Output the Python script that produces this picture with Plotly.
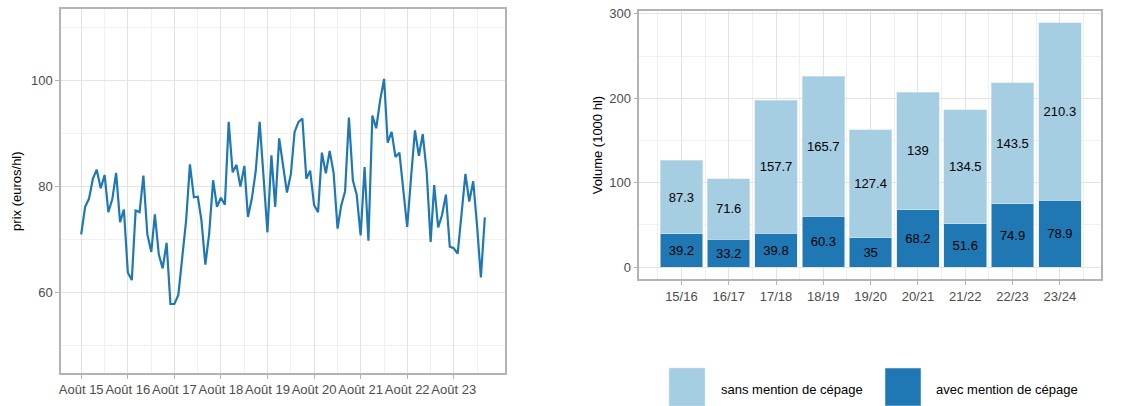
import pandas as pd
import plotly.graph_objects as go

# ---------- data ----------
price_start = "2015-08-01"
prices = [71.0, 76.2, 77.7, 81.5, 83.2, 79.7, 82.2, 75.2, 77.6, 82.6,
          73.3, 75.7, 63.8, 62.4, 75.5, 75.2, 82.1, 71.0, 67.7, 74.8,
          67.2, 64.6, 69.4, 57.9, 57.9, 59.6, 66.5, 73.6, 84.2, 78.0,
          78.1, 73.7, 65.3, 71.2, 81.2, 76.2, 77.9, 76.6, 92.2, 82.7,
          84.1, 80.0, 83.9, 74.3, 77.8, 82.9, 92.2, 82.5, 71.4, 85.9,
          76.2, 89.1, 83.9, 78.9, 82.4, 90.3, 92.2, 92.8, 81.5, 83.0,
          76.5, 75.2, 86.4, 82.5, 86.7, 82.6, 72.1, 76.4, 79.1, 93.0,
          81.2, 78.5, 70.8, 83.7, 69.8, 93.4, 91.0, 96.3, 100.3, 88.3,
          90.3, 85.6, 86.4, 80.0, 72.4, 81.9, 90.6, 85.8, 89.9, 82.8,
          69.6, 80.3, 72.3, 74.6, 78.5, 68.7, 68.4, 67.4, 74.3, 82.4,
          77.2, 81.0, 72.4, 62.9, 74.2]
price_tick_dates = ["2015-08-01", "2016-08-01", "2017-08-01", "2018-08-01", "2019-08-01",
                    "2020-08-01", "2021-08-01", "2022-08-01", "2023-08-01"]
price_tick_labels = ["Août 15", "Août 16", "Août 17", "Août 18", "Août 19",
                     "Août 20", "Août 21", "Août 22", "Août 23"]

campaigns = ["15/16", "16/17", "17/18", "18/19", "19/20", "20/21", "21/22", "22/23", "23/24"]
avec_cepage = [39.2, 33.2, 39.8, 60.3, 35, 68.2, 51.6, 74.9, 78.9]
sans_cepage = [87.3, 71.6, 157.7, 165.7, 127.4, 139, 134.5, 143.5, 210.3]
series_names = ["sans mention de cépage", "avec mention de cépage"]

# ---------- styles ----------
LIGHT = "#a6cee3"
DARK = "#1f78b4"
GRID = "#e3e3e3"
GRID_MINOR = "#f0f0f0"
BORDER = "#b3b3b3"
TICKTXT = "#4d4d4d"
FONT = "Liberation Sans, Arial, sans-serif"

# page body margin is removed in post_script, so page pixels = figure pixels
W, H = 1137, 406


def px_x(x):
    return x / W


def px_y(y):
    return (H - y) / H


dates = pd.date_range(price_start, periods=len(prices), freq="MS")
span = dates[-1] - dates[0]
xr = [dates[0] - span * 0.05, dates[-1] + span * 0.05]
minor_dates = pd.date_range("2015-02-01", "2024-08-01", freq="12MS")

fig = go.Figure()

fig.add_trace(go.Scatter(
    x=dates, y=prices, mode="lines",
    line=dict(color=DARK, width=2.2),
    xaxis="x", yaxis="y", showlegend=False, hoverinfo="x+y"))

xi = list(range(len(campaigns)))
fig.add_trace(go.Bar(
    x=xi, y=avec_cepage, name=series_names[1],
    marker=dict(color=DARK, line=dict(color="#d6e6f0", width=0.6)),
    text=[f"{v:g}" for v in avec_cepage], textposition="inside",
    insidetextanchor="middle", textfont=dict(color="black", size=13, family=FONT),
    xaxis="x2", yaxis="y2", showlegend=False, width=0.9))
fig.add_trace(go.Bar(
    x=xi, y=sans_cepage, name=series_names[0],
    marker=dict(color=LIGHT, line=dict(color="#d6e6f0", width=0.6)),
    text=[f"{v:g}" for v in sans_cepage], textposition="inside",
    insidetextanchor="middle", textfont=dict(color="black", size=13, family=FONT),
    xaxis="x2", yaxis="y2", showlegend=False, width=0.9))

axis_common = dict(
    showline=True, mirror=True, linecolor=BORDER, linewidth=1.5,
    ticks="outside", ticklen=4, tickcolor=BORDER, tickwidth=1,
    tickfont=dict(color=TICKTXT, size=13, family=FONT),
    gridcolor=GRID, gridwidth=1, zeroline=False, automargin=False,
    ticklabeloverflow="allow",
)

fig.update_layout(
    width=W, height=H,
    margin=dict(l=0, r=0, t=0, b=0),
    paper_bgcolor="white", plot_bgcolor="white",
    barmode="stack",
    font=dict(family=FONT, color="black"),
    xaxis=dict(
        domain=[px_x(61), px_x(505)], anchor="y", type="date",
        range=xr, tickvals=pd.to_datetime(price_tick_dates), ticktext=price_tick_labels,
        tickangle=0,
        minor=dict(tickvals=minor_dates, showgrid=True, gridcolor=GRID_MINOR, gridwidth=1, ticks=""),
        **axis_common),
    yaxis=dict(
        domain=[px_y(373), px_y(9.3)], anchor="x",
        range=[44.9, 113.4], tickvals=[60, 80, 100],
        minor=dict(tickvals=[50, 70, 90, 110], showgrid=True, gridcolor=GRID_MINOR, gridwidth=1, ticks=""),
        title=dict(text="prix (euros/hl)", font=dict(size=13, color="black"), standoff=6),
        **axis_common),
    xaxis2=dict(
        domain=[px_x(639.3), px_x(1101)], anchor="y2",
        range=[-0.89, 8.87], tickvals=xi, ticktext=campaigns, tickangle=0,
        minor=dict(tickvals=[i + 0.5 for i in range(-1, len(campaigns))], showgrid=True,
                   gridcolor=GRID_MINOR, gridwidth=1, ticks=""),
        **axis_common),
    yaxis2=dict(
        domain=[px_y(279.3), px_y(10.7)], anchor="x2",
        range=[-14.46, 303.66], tickvals=[0, 100, 200, 300],
        minor=dict(tickvals=[50, 150, 250], showgrid=True, gridcolor=GRID_MINOR, gridwidth=1, ticks=""),
        title=dict(text="Volume (1000 hl)", font=dict(size=13, color="black"), standoff=4),
        **axis_common),
)

# custom legend with large keys (bottom of right panel)
legend_items = [(series_names[0], LIGHT, 669, 719), (series_names[1], DARK, 885, 934)]
for name, col, kx, tx in legend_items:
    fig.add_shape(type="rect", xref="paper", yref="paper",
                  x0=px_x(kx), x1=px_x(kx + 36),
                  y0=px_y(406), y1=px_y(368),
                  fillcolor=col, line=dict(color="#d6e6f0", width=0.6))
    fig.add_annotation(xref="paper", yref="paper", x=px_x(tx), y=px_y(389),
                       text=name, showarrow=False, xanchor="left", yanchor="middle",
                       font=dict(size=13, color="black", family=FONT))

fig.write_html("out.html",
               config={"displayModeBar": False},
               post_script="document.body.style.margin='0';document.body.style.overflow='hidden';")
